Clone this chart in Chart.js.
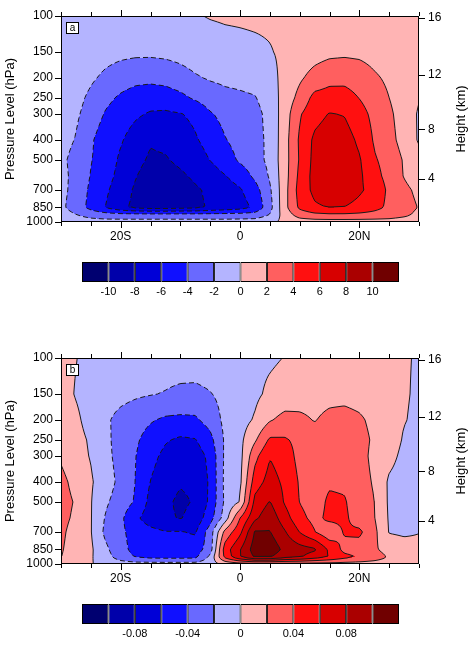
<!DOCTYPE html>
<html>
<head>
<meta charset="utf-8">
<script src="https://cdn.jsdelivr.net/npm/chart.js@4.4.1/dist/chart.umd.min.js"></script>
<style>
html,body{margin:0;padding:0;background:#fff;}
body{position:relative;width:469px;height:647px;overflow:hidden;}
canvas{position:absolute;left:0;}
</style>
</head>
<body>
<canvas id="panelA" width="469" height="245" style="top:0px"></canvas>
<canvas id="barA" width="469" height="55" style="top:250px"></canvas>
<canvas id="panelB" width="469" height="245" style="top:342px"></canvas>
<canvas id="barB" width="469" height="55" style="top:592px"></canvas>
<script>
// ---------------- data ----------------
const LATS = [-30,-27.5,-25,-22.5,-20,-17.5,-15,-12.5,-10,-7.5,-5,-2.5,0,2.5,5,7.5,10,12.5,15,17.5,20,22.5,25,27.5,30];
const LEVELS = [1000,925,850,700,600,500,400,300,250,200,150,100];
const PRESSURE_TICKS = [1000,850,700,500,400,300,250,200,150,100];
const HEIGHT_TICKS_KM = [4,8,12,16];
const LAT_TICKS = [-20,0,20];
const LAT_MINOR_STEP = 5;
const CONTOUR_A = [-10,-8,-6,-4,-2,0,2,4,6,8,10];
const CONTOUR_B = [-0.1,-0.08,-0.06,-0.04,-0.02,0,0.02,0.04,0.06,0.08,0.1];
const BAR_LABELS_A = [-10,-8,-6,-4,-2,0,2,4,6,8,10];
const BAR_LABELS_B = [-0.08,-0.04,0,0.04,0.08];
const COLORS = ['#000070','#0000aa','#0000d7','#1010ff','#6969ff','#b4b4ff',
                '#ffb4b4','#ff5f5f','#ff1010','#d70000','#aa0000','#700000'];

// panel a: one row per pressure level, values along LATS
const a1000 = [-0.6,-0.9,-1.1,-1.2,-1.2,-1.2,-1.2,-1.2,-1.2,-1.2,-1.2,-1.2,-1.1,-1.0,-0.5,0.5,1.0,1.1,1.1,1.1,1.1,1.1,1.1,0.9,0.7];
const a925  = [-1.1,-1.9,-2.7,-3.1,-3.2,-3.2,-3.2,-3.2,-3.2,-3.2,-3.2,-3.2,-3.2,-3.1,-1.9,0.9,2.8,3.4,3.6,3.6,3.5,3.3,3.0,2.4,1.5];
const a850  = [-1.6,-2.9,-4.6,-6.05,-7.6,-8.4,-8.8,-8.8,-8.6,-8.4,-7.8,-7.3,-6.8,-5.6,-2.7,1.4,4.4,5.7,6.05,5.95,5.4,4.6,3.6,2.8,1.9];
const a700  = [-1.5,-2.6,-4.4,-5.7,-7.0,-8.3,-9.2,-9.5,-9.2,-8.3,-7.6,-6.8,-6.2,-4.8,-2.3,1.3,4.8,6.5,7.3,7.2,6.3,5.3,3.6,2.5,1.5];
const a600  = [-1.5,-2.5,-4.1,-5.3,-6.6,-7.9,-8.9,-9.0,-8.4,-7.6,-7.0,-6.1,-5.2,-3.6,-1.8,1.2,4.5,6.7,7.5,7.3,6.4,4.6,3.4,1.9,0.8];
const a500  = [-1.6,-2.6,-3.9,-5.0,-6.3,-7.4,-8.3,-8.2,-7.5,-6.9,-5.95,-4.9,-3.7,-2.8,-1.5,1.2,4.2,6.6,7.3,7.2,6.2,4.2,3.3,1.8,0.6];
const a400  = [-1.3,-2.1,-3.7,-5.2,-5.8,-6.9,-7.8,-7.5,-6.9,-6.2,-5.3,-4.1,-3.3,-2.6,-1.6,1.2,4.3,6.4,7.1,6.9,5.6,3.8,2.7,1.2,-0.2];
const a300  = [-0.9,-1.7,-2.8,-4.2,-5.0,-5.7,-6.2,-6.3,-6.1,-5.6,-4.2,-3.4,-2.8,-2.6,-1.4,1.0,3.8,5.3,6.1,5.9,4.7,3.5,2.4,1.0,-0.2];
const a250  = [-0.7,-1.4,-2.4,-3.5,-4.3,-4.9,-5.1,-5.0,-4.5,-3.7,-3.0,-2.5,-2.3,-2.1,-1.1,0.8,2.6,4.6,4.8,4.7,3.95,3.1,2.0,0.9,0.1];
const a200  = [-0.5,-1.0,-1.7,-2.4,-3.0,-3.4,-3.5,-3.3,-2.8,-2.2,-1.8,-1.6,-1.5,-1.3,-0.7,0.6,1.7,2.7,3.4,3.5,3.2,2.3,1.6,0.8,0.3];
const a150  = [-0.4,-0.7,-1.0,-1.3,-1.5,-1.6,-1.6,-1.5,-1.3,-1.0,-0.8,-0.6,-0.5,-0.35,-0.1,0.3,0.8,1.2,1.5,1.6,1.5,1.2,0.9,0.6,0.4];
const a100  = [-0.3,-0.4,-0.5,-0.6,-0.6,-0.6,-0.55,-0.45,-0.3,-0.1,0.1,0.2,0.25,0.3,0.3,0.3,0.3,0.3,0.3,0.3,0.3,0.3,0.3,0.3,0.3];

// panel b
const b1000 = [0.008,0.005,0.001,-0.005,-0.010,-0.012,-0.012,-0.012,-0.012,-0.012,-0.008,0.005,0.010,0.012,0.012,0.012,0.012,0.012,0.012,0.012,0.012,0.011,0.010,0.006,0.004];
const b925  = [0.0205,0.008,0.002,-0.012,-0.030,-0.041,-0.045,-0.046,-0.046,-0.045,-0.015,0.045,0.079,0.102,0.101,0.088,0.082,0.070,0.059,0.046,0.038,0.030,0.018,0.010,0.006];
const b850  = [0.022,0.010,0.003,-0.016,-0.034,-0.046,-0.052,-0.055,-0.053,-0.050,-0.030,0.050,0.079,0.110,0.113,0.095,0.088,0.083,0.056,0.034,0.031,0.023,0.012,0.008,0.005];
const b700  = [0.024,0.012,0.001,-0.025,-0.036,-0.048,-0.054,-0.059,-0.059,-0.062,-0.030,0.026,0.055,0.102,0.101,0.082,0.0595,0.041,0.025,0.042,0.044,0.025,-0.001,-0.003,-0.0005];
const b600  = [0.026,0.016,0.001,-0.022,-0.036,-0.056,-0.070,-0.077,-0.081,-0.073,-0.048,-0.010,0.0405,0.076,0.093,0.069,0.046,0.034,0.045,0.044,0.030,0.021,-0.002,-0.006,-0.005];
const b500  = [0.028,0.018,0.001,-0.017,-0.030,-0.042,-0.066,-0.076,-0.084,-0.078,-0.056,-0.016,0.001,0.066,0.081,0.058,0.0395,0.030,0.044,0.042,0.028,0.0205,-0.003,-0.008,-0.009];
const b400  = [0.026,0.013,0.002,-0.010,-0.026,-0.0405,-0.0605,-0.072,-0.078,-0.076,-0.057,-0.015,-0.004,0.050,0.068,0.056,0.038,0.032,0.037,0.036,0.028,0.018,-0.003,-0.008,-0.010];
const b300  = [0.017,0.006,-0.001,-0.014,-0.028,-0.0395,-0.054,-0.065,-0.072,-0.070,-0.055,-0.016,-0.006,0.034,0.059,0.050,0.034,0.029,0.032,0.033,0.027,0.015,0.006,-0.005,-0.009];
const b250  = [0.008,0.005,-0.002,-0.015,-0.029,-0.037,-0.048,-0.058,-0.063,-0.061,-0.046,-0.017,-0.005,0.017,0.043,0.042,0.035,0.028,0.031,0.032,0.027,0.017,0.010,-0.002,-0.006];
const b200  = [0.007,0.003,-0.006,-0.017,-0.026,-0.032,-0.038,-0.043,-0.044,-0.043,-0.032,-0.015,-0.008,0.002,0.018,0.026,0.024,0.019,0.025,0.027,0.023,0.015,0.008,0.001,-0.004];
const b150  = [0.006,-0.001,-0.007,-0.011,-0.014,-0.017,-0.019,-0.021,-0.024,-0.025,-0.021,-0.014,-0.009,-0.004,0.004,0.008,0.011,0.013,0.014,0.014,0.012,0.010,0.007,0.002,-0.003];
const b100  = [0.005,0.0005,-0.005,-0.007,-0.009,-0.010,-0.011,-0.011,-0.010,-0.009,-0.008,-0.007,-0.006,-0.0045,-0.003,0.0005,0.004,0.006,0.007,0.007,0.006,0.005,0.004,0.002,-0.002];

const FIELD_A = [a1000,a925,a850,a700,a600,a500,a400,a300,a250,a200,a150,a100];
const FIELD_B = [b1000,b925,b850,b700,b600,b500,b400,b300,b250,b200,b150,b100];

// ---------------- helpers ----------------
const FONT = '"Liberation Sans", Arial, Helvetica, sans-serif';
Chart.defaults.font.family = FONT;
Chart.defaults.color = '#000';

function pressureAtHeight(km){ // standard atmosphere
  const z = km*1000;
  if (z <= 11000) return 1013.25*Math.pow(1 - 2.25577e-5*z, 5.25588);
  return 226.32*Math.exp(-(z-11000)/6341.62);
}
function hexRgb(h){return [parseInt(h.slice(1,3),16),parseInt(h.slice(3,5),16),parseInt(h.slice(5,7),16)];}
const RGB = COLORS.map(hexRgb);
const LOG_LEV = LEVELS.map(Math.log);

function fieldAt(rows, lat, p){
  let fx = (lat - LATS[0])/(LATS[1]-LATS[0]);
  fx = Math.max(0, Math.min(LATS.length-1.000001, fx));
  const i = Math.floor(fx), tx = fx - i;
  const lp = Math.log(p);
  let j = 0;
  while (j < LEVELS.length-2 && lp < LOG_LEV[j+1]) j++;
  let ty = (LOG_LEV[j]-lp)/(LOG_LEV[j]-LOG_LEV[j+1]);
  ty = Math.max(0, Math.min(1, ty));
  const r0 = rows[j], r1 = rows[j+1];
  const a = r0[i]*(1-tx) + r0[i+1]*tx;
  const b = r1[i]*(1-tx) + r1[i+1]*tx;
  return a*(1-ty) + b*ty;
}

function traceContours(g, gx, gy, level){
  const nx = gx.length, ny = gy.length;
  const segs = [], pts = new Map(), adj = new Map();
  const up = v => v >= level;
  function pt(id, x0,y0,v0,x1,y1,v1){
    if(!pts.has(id)){ const t=(level-v0)/(v1-v0); pts.set(id,[x0+(x1-x0)*t, y0+(y1-y0)*t]); }
    return id;
  }
  function add(a,b){
    const k = segs.length; segs.push([a,b]);
    if(!adj.has(a)) adj.set(a,[]); adj.get(a).push(k);
    if(!adj.has(b)) adj.set(b,[]); adj.get(b).push(k);
  }
  for(let j=0;j<ny-1;j++) for(let i=0;i<nx-1;i++){
    const v0=g[j*nx+i], v1=g[j*nx+i+1], v2=g[(j+1)*nx+i+1], v3=g[(j+1)*nx+i];
    const c=(up(v0)?8:0)|(up(v1)?4:0)|(up(v2)?2:0)|(up(v3)?1:0);
    if(c===0||c===15) continue;
    const x0=gx[i], x1=gx[i+1], y0=gy[j], y1=gy[j+1];
    const eT = (up(v0)!==up(v1)) ? pt((j*nx+i)*2, x0,y0,v0, x1,y0,v1) : -1;
    const eR = (up(v1)!==up(v2)) ? pt((j*nx+i+1)*2+1, x1,y0,v1, x1,y1,v2) : -1;
    const eB = (up(v3)!==up(v2)) ? pt(((j+1)*nx+i)*2, x0,y1,v3, x1,y1,v2) : -1;
    const eL = (up(v0)!==up(v3)) ? pt((j*nx+i)*2+1, x0,y0,v0, x0,y1,v3) : -1;
    const es = [eT,eR,eB,eL].filter(e=>e>=0);
    if(es.length===2) add(es[0],es[1]);
    else if(es.length===4){
      const center = up((v0+v1+v2+v3)/4);
      if(c===10){ if(center){add(eT,eR);add(eB,eL);} else {add(eT,eL);add(eR,eB);} }
      else { if(center){add(eT,eL);add(eR,eB);} else {add(eT,eR);add(eB,eL);} }
    }
  }
  const used = new Uint8Array(segs.length);
  const lines = [];
  function extend(line){
    while(true){
      const last = line[line.length-1];
      const list = adj.get(last) || [];
      let nxt = -1;
      for(const k of list){ if(!used[k]){ nxt=k; break; } }
      if(nxt<0) break;
      used[nxt]=1;
      const s = segs[nxt];
      line.push(s[0]===last ? s[1] : s[0]);
    }
  }
  for(let s=0;s<segs.length;s++){
    if(used[s]) continue;
    used[s]=1;
    const line=[segs[s][0],segs[s][1]];
    extend(line); line.reverse(); extend(line);
    lines.push(line.map(id=>pts.get(id)));
  }
  return lines;
}

const contourPlugin = {
  id: 'contour',
  beforeDatasetsDraw(chart){
    const o = chart.options.plugins.contour;
    if(!o || !o.rows) return;
    const ctx = chart.ctx, ca = chart.chartArea, xs = chart.scales.x, ys = chart.scales.y;
    const L = Math.round(ca.left), T = Math.round(ca.top), R = Math.round(ca.right), B = Math.round(ca.bottom);
    const W = R-L, H = B-T;
    const rows = o.rows, lv = o.levels;
    // filled bands
    const img = ctx.createImageData(W, H);
    const d = img.data;
    const latCol = new Float64Array(W);
    for(let px=0;px<W;px++) latCol[px] = xs.getValueForPixel(L+px+0.5);
    for(let py=0;py<H;py++){
      const p = ys.getValueForPixel(T+py+0.5);
      for(let px=0;px<W;px++){
        const v = fieldAt(rows, latCol[px], p);
        let k=0; while(k<lv.length && v>=lv[k]) k++;
        const c = RGB[k], idx=(py*W+px)*4;
        d[idx]=c[0]; d[idx+1]=c[1]; d[idx+2]=c[2]; d[idx+3]=255;
      }
    }
    ctx.putImageData(img, L, T);
    // contour lines
    const step = 2, gx = [], gy = [];
    for(let x=L;x<R;x+=step) gx.push(x); gx.push(R);
    for(let y=T;y<B;y+=step) gy.push(y); gy.push(B);
    const g = new Float64Array(gx.length*gy.length);
    const gl = gx.map(x=>xs.getValueForPixel(x));
    for(let j=0;j<gy.length;j++){
      const p = ys.getValueForPixel(gy[j]);
      for(let i=0;i<gx.length;i++) g[j*gx.length+i] = fieldAt(rows, gl[i], p);
    }
    ctx.save();
    ctx.beginPath(); ctx.rect(L,T,W,H); ctx.clip();
    ctx.lineWidth = 1; ctx.strokeStyle = '#1a1a1a'; ctx.lineJoin = 'round'; ctx.lineCap = 'butt';
    for(const level of lv){
      const lines = traceContours(g, gx, gy, level);
      ctx.setLineDash(level < 0 ? [5,3] : []);
      for(const line of lines){
        ctx.beginPath();
        line.forEach((q,k)=> k ? ctx.lineTo(q[0],q[1]) : ctx.moveTo(q[0],q[1]));
        ctx.stroke();
      }
    }
    ctx.restore();
  },
  afterDraw(chart){
    const o = chart.options.plugins.contour;
    if(!o || !o.rows) return;
    const ctx=chart.ctx, ca=chart.chartArea, xs=chart.scales.x, ys=chart.scales.y;
    const L=Math.round(ca.left), R=Math.round(ca.right), T=Math.round(ca.top), B=Math.round(ca.bottom);
    ctx.save();
    ctx.setLineDash([]);
    ctx.strokeStyle='#000'; ctx.lineWidth=1;
    ctx.strokeRect(L+0.5, T+0.5, R-L-1, B-T-1);
    ctx.beginPath();
    for(let v=xs.min; v<=xs.max+1e-9; v+=LAT_MINOR_STEP){
      const x=Math.round(xs.getPixelForValue(v))+0.5;
      const len = LAT_TICKS.includes(v) ? 6 : 4;
      ctx.moveTo(x,B); ctx.lineTo(x,B+len);
      ctx.moveTo(x,T); ctx.lineTo(x,T-len);
    }
    for(const p of PRESSURE_TICKS){
      const y=Math.round(ys.getPixelForValue(p))+0.5;
      ctx.moveTo(L-6,y); ctx.lineTo(L,y);
    }
    for(const h of HEIGHT_TICKS_KM){
      const y=Math.round(ys.getPixelForValue(pressureAtHeight(h)))+0.5;
      ctx.moveTo(R,y); ctx.lineTo(R+6,y);
    }
    ctx.stroke();
    // axis titles
    ctx.fillStyle='#000';
    ctx.font='13px '+FONT;
    ctx.textAlign='center'; ctx.textBaseline='middle';
    const cy=(T+B)/2;
    ctx.save(); ctx.translate(10, cy); ctx.rotate(-Math.PI/2); ctx.fillText(o.leftTitle,0,0); ctx.restore();
    ctx.save(); ctx.translate(461, cy); ctx.rotate(-Math.PI/2); ctx.fillText(o.rightTitle,0,0); ctx.restore();
    // panel tag
    ctx.fillStyle='#fff'; ctx.fillRect(L+5, T+6, 12, 11);
    ctx.strokeRect(L+5.5, T+6.5, 12, 11);
    ctx.fillStyle='#000'; ctx.font='10px '+FONT;
    ctx.fillText(o.tag, L+11.5, T+12.5);
    ctx.restore();
  }
};

function latLabel(v){ return v<0 ? (-v)+'S' : (v>0 ? v+'N' : '0'); }

const AXIS_FONT = { size:12, lineHeight:1.1 };

function makePanel(id, rows, levels, tag){
  return new Chart(document.getElementById(id), {
    type: 'scatter',
    data: { datasets: [{ data: [], xAxisID:'x', yAxisID:'y' }] },
    plugins: [contourPlugin],
    options: {
      responsive:false, animation:false, devicePixelRatio:1, events:[],
      layout:{ padding:{ top:7, left:0, right:0, bottom:0 } },
      plugins:{
        legend:{display:false}, tooltip:{enabled:false},
        contour:{ rows, levels, tag, leftTitle:'Pressure Level (hPa)', rightTitle:'Height (km)' }
      },
      scales:{
        x:{ type:'linear', position:'bottom', min:LATS[0], max:LATS[LATS.length-1],
            afterBuildTicks: s => { s.ticks = LAT_TICKS.map(v=>({value:v})); },
            afterFit: s => { s.height = 23; },
            ticks:{ callback: v => latLabel(v), padding:8, font:AXIS_FONT, color:'#000', maxRotation:0, autoSkip:false },
            grid:{ display:false, drawTicks:false }, border:{ display:false } },
        y:{ type:'logarithmic', position:'left', min:100, max:1000, reverse:true,
            afterBuildTicks: s => { s.ticks = PRESSURE_TICKS.map(v=>({value:v})); },
            afterFit: s => { s.width = 61; },
            ticks:{ callback: v => String(v), padding:8, font:AXIS_FONT, color:'#000', autoSkip:false },
            grid:{ display:false, drawTicks:false }, border:{ display:false } },
        y2:{ type:'logarithmic', position:'right', min:100, max:1000, reverse:true,
            afterBuildTicks: s => { s.ticks = HEIGHT_TICKS_KM.map(h=>({value:pressureAtHeight(h)})); },
            afterFit: s => { s.width = 50; },
            ticks:{ callback: (v,i) => String(HEIGHT_TICKS_KM[i]), padding:9, font:AXIS_FONT, color:'#000', autoSkip:false },
            grid:{ display:false, drawTicks:false }, border:{ display:false } }
      }
    }
  });
}

function makeBar(id, levels, labels){
  const stepLo = levels[1]-levels[0], stepHi = levels[levels.length-1]-levels[levels.length-2];
  const edges = [levels[0]-stepLo, ...levels, levels[levels.length-1]+stepHi];
  const datasets = COLORS.map((c,k)=>({
    data:[[edges[k], edges[k+1]]], backgroundColor:c, borderColor:'#000', borderWidth:1,
    borderSkipped:false, barPercentage:1, categoryPercentage:1, grouped:false, inflateAmount:0
  }));
  return new Chart(document.getElementById(id), {
    type:'bar',
    data:{ labels:[''], datasets },
    options:{
      indexAxis:'y', responsive:false, animation:false, devicePixelRatio:1, events:[],
      layout:{ padding:{ top:12, left:82, right:70, bottom:0 } },
      plugins:{ legend:{display:false}, tooltip:{enabled:false} },
      scales:{
        x:{ type:'linear', min:edges[0], max:edges[edges.length-1],
            afterBuildTicks: s => { s.ticks = labels.map(v=>({value:v})); },
            afterFit: s => { s.height = 23; },
            ticks:{ callback: v => String(v), padding:3, font:{size:11}, color:'#000', maxRotation:0, autoSkip:false },
            grid:{ display:false, drawTicks:false }, border:{ display:false } },
        y:{ display:false }
      }
    }
  });
}

makePanel('panelA', FIELD_A, CONTOUR_A, 'a');
makeBar('barA', CONTOUR_A, BAR_LABELS_A);
makePanel('panelB', FIELD_B, CONTOUR_B, 'b');
makeBar('barB', CONTOUR_B, BAR_LABELS_B);
</script>
</body>
</html>
